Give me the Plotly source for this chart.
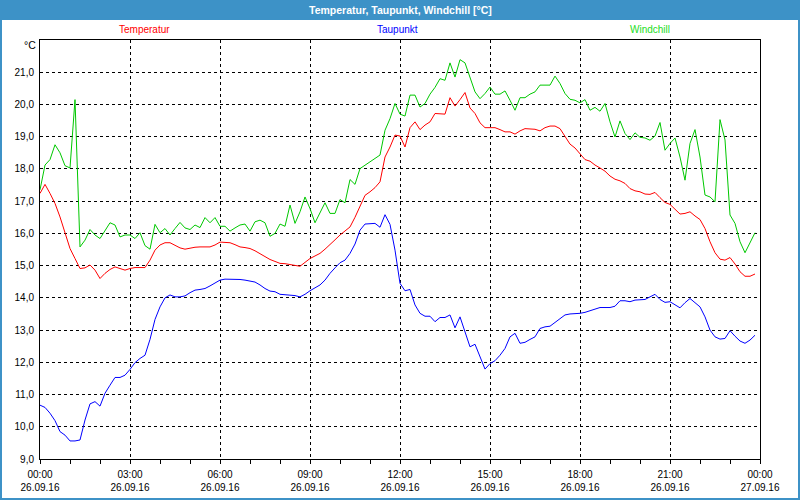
import pandas as pd
import plotly.graph_objects as go

start_time = "2016-09-26 00:00"
n_points = 144
times = pd.date_range(start_time, periods=n_points, freq="10min")

temperatur = [
    17.24, 17.52, 17.24, 16.93, 16.51, 16.00, 15.53, 15.22, 14.91, 14.93,
    15.02, 14.86, 14.60, 14.76, 14.88, 14.96, 14.91, 14.86, 14.91, 14.94,
    14.94, 14.94, 15.17, 15.48, 15.64, 15.71, 15.71, 15.64, 15.55, 15.51,
    15.55, 15.57, 15.58, 15.58, 15.58, 15.64, 15.73, 15.72, 15.71, 15.65,
    15.58, 15.56, 15.53, 15.46, 15.38, 15.28, 15.19, 15.13, 15.07, 15.06,
    15.04, 15.01, 14.98, 15.10, 15.22, 15.30, 15.38, 15.51, 15.64, 15.80,
    15.95, 16.08, 16.20, 16.50, 16.85, 17.18, 17.29, 17.42, 17.60, 18.37,
    18.68, 19.05, 19.02, 18.68, 19.28, 19.46, 19.22, 19.36, 19.46, 19.72,
    19.71, 19.70, 20.21, 19.95, 20.15, 20.37, 19.89, 19.72, 19.43, 19.28,
    19.28, 19.28, 19.22, 19.15, 19.15, 19.08, 19.18, 19.25, 19.24, 19.23,
    19.18, 19.28, 19.33, 19.33, 19.25, 18.99, 18.77, 18.65, 18.48, 18.29,
    18.24, 18.12, 18.03, 17.93, 17.78, 17.68, 17.63, 17.55, 17.39, 17.32,
    17.29, 17.22, 17.21, 17.27, 17.11, 16.96, 16.90, 16.75, 16.60, 16.62,
    16.67, 16.54, 16.43, 16.15, 15.74, 15.40, 15.20, 15.17, 15.25, 15.05,
    14.81, 14.67, 14.67, 14.74,
]

taupunkt = [
    10.67, 10.60, 10.42, 10.19, 9.85, 9.74, 9.56, 9.56, 9.59, 10.21,
    10.71, 10.78, 10.64, 11.04, 11.29, 11.53, 11.53, 11.60, 11.78, 11.99,
    12.12, 12.22, 12.71, 13.33, 13.72, 14.00, 14.09, 14.03, 14.03, 14.06,
    14.16, 14.24, 14.26, 14.29, 14.37, 14.47, 14.55, 14.58, 14.58, 14.58,
    14.57, 14.55, 14.52, 14.49, 14.40, 14.29, 14.21, 14.19, 14.11, 14.10,
    14.09, 14.07, 14.03, 14.11, 14.22, 14.32, 14.40, 14.55, 14.76, 14.93,
    15.09, 15.17, 15.38, 15.67, 16.10, 16.29, 16.29, 16.31, 16.19, 16.58,
    16.28, 15.48, 14.45, 14.22, 14.26, 13.78, 13.52, 13.43, 13.43, 13.26,
    13.39, 13.39, 13.47, 13.07, 13.41, 12.97, 12.48, 12.56, 12.17, 11.79,
    11.96, 12.05, 12.22, 12.43, 12.79, 12.90, 12.59, 12.62, 12.71, 12.79,
    13.05, 13.10, 13.12, 13.23, 13.36, 13.47, 13.50, 13.50, 13.52, 13.55,
    13.60, 13.67, 13.70, 13.70, 13.70, 13.74, 13.91, 13.91, 13.88, 13.93,
    13.94, 13.95, 14.03, 14.11, 13.95, 13.86, 13.88, 13.78, 13.69, 13.85,
    13.98, 13.85, 13.72, 13.41, 13.00, 12.79, 12.72, 12.74, 12.98, 12.81,
    12.66, 12.59, 12.69, 12.84,
]

windchill = [
    17.35, 18.12, 18.29, 18.75, 18.50, 18.10, 18.03, 20.15, 15.58, 15.79,
    16.12, 15.95, 15.84, 16.08, 16.33, 16.26, 15.89, 15.95, 15.95, 15.84,
    16.02, 15.62, 15.51, 16.28, 16.02, 16.15, 15.95, 16.15, 16.34, 16.17,
    16.12, 16.26, 16.18, 16.49, 16.33, 16.49, 16.22, 16.22, 16.07, 16.17,
    16.26, 16.29, 16.07, 16.36, 16.41, 16.33, 15.91, 16.00, 16.29, 16.22,
    16.88, 16.31, 16.67, 17.13, 16.77, 16.33, 16.62, 16.95, 16.62, 16.62,
    17.05, 16.95, 17.67, 17.52, 18.01, 18.12, 18.22, 18.32, 18.43, 19.20,
    19.56, 20.03, 19.70, 19.64, 20.29, 20.29, 19.92, 20.03, 20.32, 20.53,
    20.80, 20.75, 21.29, 20.85, 21.39, 21.29, 20.85, 20.39, 20.18, 20.34,
    20.54, 20.32, 20.32, 20.42, 20.13, 19.82, 20.21, 20.21, 20.32, 20.39,
    20.60, 20.60, 20.60, 20.88, 20.65, 20.34, 20.16, 20.13, 20.05, 20.15,
    19.82, 19.91, 19.79, 20.03, 19.46, 18.99, 19.49, 19.10, 18.91, 19.12,
    18.98, 18.96, 18.89, 19.02, 19.44, 18.58, 18.79, 18.96, 18.37, 17.65,
    18.79, 19.22, 18.37, 17.19, 17.13, 16.98, 19.53, 18.90, 16.57, 16.31,
    15.74, 15.40, 15.71, 16.02,
]

x_tick_vals = ["2016-09-26 00:00", "2016-09-26 03:00", "2016-09-26 06:00",
               "2016-09-26 09:00", "2016-09-26 12:00", "2016-09-26 15:00",
               "2016-09-26 18:00", "2016-09-26 21:00", "2016-09-27 00:00"]
x_tick_text = ["00:00<br>26.09.16", "03:00<br>26.09.16", "06:00<br>26.09.16",
               "09:00<br>26.09.16", "12:00<br>26.09.16", "15:00<br>26.09.16",
               "18:00<br>26.09.16", "21:00<br>26.09.16", "00:00<br>27.09.16"]
y_tick_vals = [9, 10, 11, 12, 13, 14, 15, 16, 17, 18, 19, 20, 21]
y_tick_text = ["9,0", "10,0", "11,0", "12,0", "13,0", "14,0", "15,0",
               "16,0", "17,0", "18,0", "19,0", "20,0", "21,0"]

FONT = "Liberation Sans, Arial, sans-serif"
FS = 10
BLUE_BAR = "#3d92c7"

W, H = 800, 500
L, R, T, B = 40, 40, 40, 41
PW, PH = W - L - R, H - T - B


def px(x):
    return (x - L) / PW


def py(y):
    return (H - B - y) / PH


fig = go.Figure()
fig.add_trace(go.Scatter(x=times, y=temperatur, mode="lines", name="Temperatur",
                         line=dict(color="#ff0000", width=1)))
fig.add_trace(go.Scatter(x=times, y=taupunkt, mode="lines", name="Taupunkt",
                         line=dict(color="#0000ff", width=1)))
fig.add_trace(go.Scatter(x=times, y=windchill, mode="lines", name="Windchill",
                         line=dict(color="#00c800", width=1)))

fig.update_layout(
    width=W, height=H,
    margin=dict(l=L, r=R, t=T, b=B, autoexpand=False),
    paper_bgcolor="white", plot_bgcolor="white",
    showlegend=False,
    font=dict(family=FONT, size=FS, color="#000000"),
    xaxis=dict(
        type="date",
        range=["2016-09-26 00:00", "2016-09-27 00:00"],
        tickvals=x_tick_vals, ticktext=x_tick_text,
        showgrid=True, gridcolor="#000000", gridwidth=1, griddash="3px,3px",
        showline=True, linecolor="#000000", linewidth=1, mirror=True,
        ticks="outside", ticklen=4, tickcolor="#000000",
        minor=dict(dtick=3600000, ticks="outside", ticklen=4,
                   tickcolor="#000000", showgrid=False),
        zeroline=False, automargin=False,
        ticklabelstandoff=2,
        tickfont=dict(family=FONT, size=FS, color="#000000"),
    ),
    yaxis=dict(
        range=[9, 22],
        tickvals=y_tick_vals, ticktext=y_tick_text,
        showgrid=True, gridcolor="#000000", gridwidth=1, griddash="3px,3px",
        showline=True, linecolor="#000000", linewidth=1, mirror=True,
        ticks="", zeroline=False, automargin=False,
        ticklabelstandoff=3,
        tickfont=dict(family=FONT, size=FS, color="#000000"),
    ),
    shapes=[
        dict(type="rect", xref="paper", yref="paper",
             x0=px(0), x1=px(W), y0=py(20), y1=py(0),
             fillcolor=BLUE_BAR, line=dict(width=0), layer="above"),
        dict(type="rect", xref="paper", yref="paper",
             x0=px(1), x1=px(W - 1), y0=py(H - 1), y1=py(1),
             line=dict(color=BLUE_BAR, width=2), fillcolor="rgba(0,0,0,0)",
             layer="above"),
    ],
    annotations=[
        dict(text="<b>Temperatur, Taupunkt, Windchill [°C]</b>", xref="paper",
             yref="paper", x=0.5, y=py(10), xanchor="center", yanchor="middle",
             showarrow=False, font=dict(family=FONT, size=10.5, color="white")),
        dict(text="Temperatur", xref="paper", yref="paper", x=px(144), y=py(30),
             xanchor="center", yanchor="middle", showarrow=False,
             font=dict(family=FONT, size=FS, color="#ff0000")),
        dict(text="Taupunkt", xref="paper", yref="paper", x=px(397), y=py(30),
             xanchor="center", yanchor="middle", showarrow=False,
             font=dict(family=FONT, size=FS, color="#0000ff")),
        dict(text="Windchill", xref="paper", yref="paper", x=px(650), y=py(30),
             xanchor="center", yanchor="middle", showarrow=False,
             font=dict(family=FONT, size=FS, color="#22dd22")),
        dict(text="°C", xref="paper", yref="paper", x=px(38), y=py(45),
             xanchor="right", yanchor="middle", showarrow=False,
             font=dict(family=FONT, size=FS + 0.5, color="#000000")),
    ],
)

fig.write_html("out.html", config={"displayModeBar": False},
               post_script="document.body.style.margin='0';")
